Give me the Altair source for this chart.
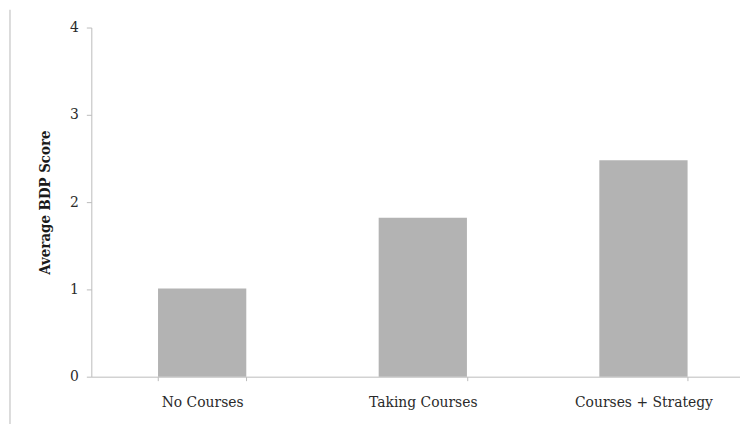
import altair as alt
import pandas as pd

categories = ["No Courses", "Taking Courses", "Courses + Strategy"]
scores = [1.01, 1.82, 2.48]
y_ticks = [0, 1, 2, 3, 4]

df = pd.DataFrame({"group": categories, "score": scores})

FONT = "DejaVu Serif"

bars = alt.Chart(df).mark_bar(color="#b3b3b3").encode(
    x=alt.X(
        "group:N",
        sort=categories,
        title=None,
        scale=alt.Scale(paddingInner=0.6, paddingOuter=0.27, align=0.56),
        axis=alt.Axis(
            labelAngle=0,
            labelFont=FONT,
            labelFontSize=14,
            labelColor="#2a2a2a",
            labelPadding=15,
            domainColor="#bbbbbb",
            tickColor="#bbbbbb",
            tickBand="extent",
            tickSize=4,
            grid=False,
        ),
    ),
    y=alt.Y(
        "score:Q",
        title="Average BDP Score",
        scale=alt.Scale(domain=[0, 4], nice=False),
        axis=alt.Axis(
            values=y_ticks,
            labelFont=FONT,
            labelFontSize=14,
            labelColor="#2a2a2a",
            labelPadding=8,
            titleFont="DejaVu Serif Condensed",
            titleFontSize=15,
            titleFontWeight="bold",
            titleColor="#1a1a1a",
            titlePadding=17,
            domainColor="#bbbbbb",
            tickColor="#bbbbbb",
            tickSize=5,
            grid=False,
        ),
    ),
)

border = alt.Chart(pd.DataFrame({"a": [0]})).mark_rule(
    color="#d0d0d0", strokeWidth=1.5
).encode(x=alt.value(-82), y=alt.value(-18), y2=alt.value(430))

chart = alt.layer(bars, border).properties(
    width=654,
    height=352,
    autosize=alt.AutoSizeParams(type="none"),
    padding={"left": 84, "top": 18, "right": 0, "bottom": 46},
).configure_view(stroke=None)

chart.save("out.html", embed_options={"renderer": "svg", "actions": False})
